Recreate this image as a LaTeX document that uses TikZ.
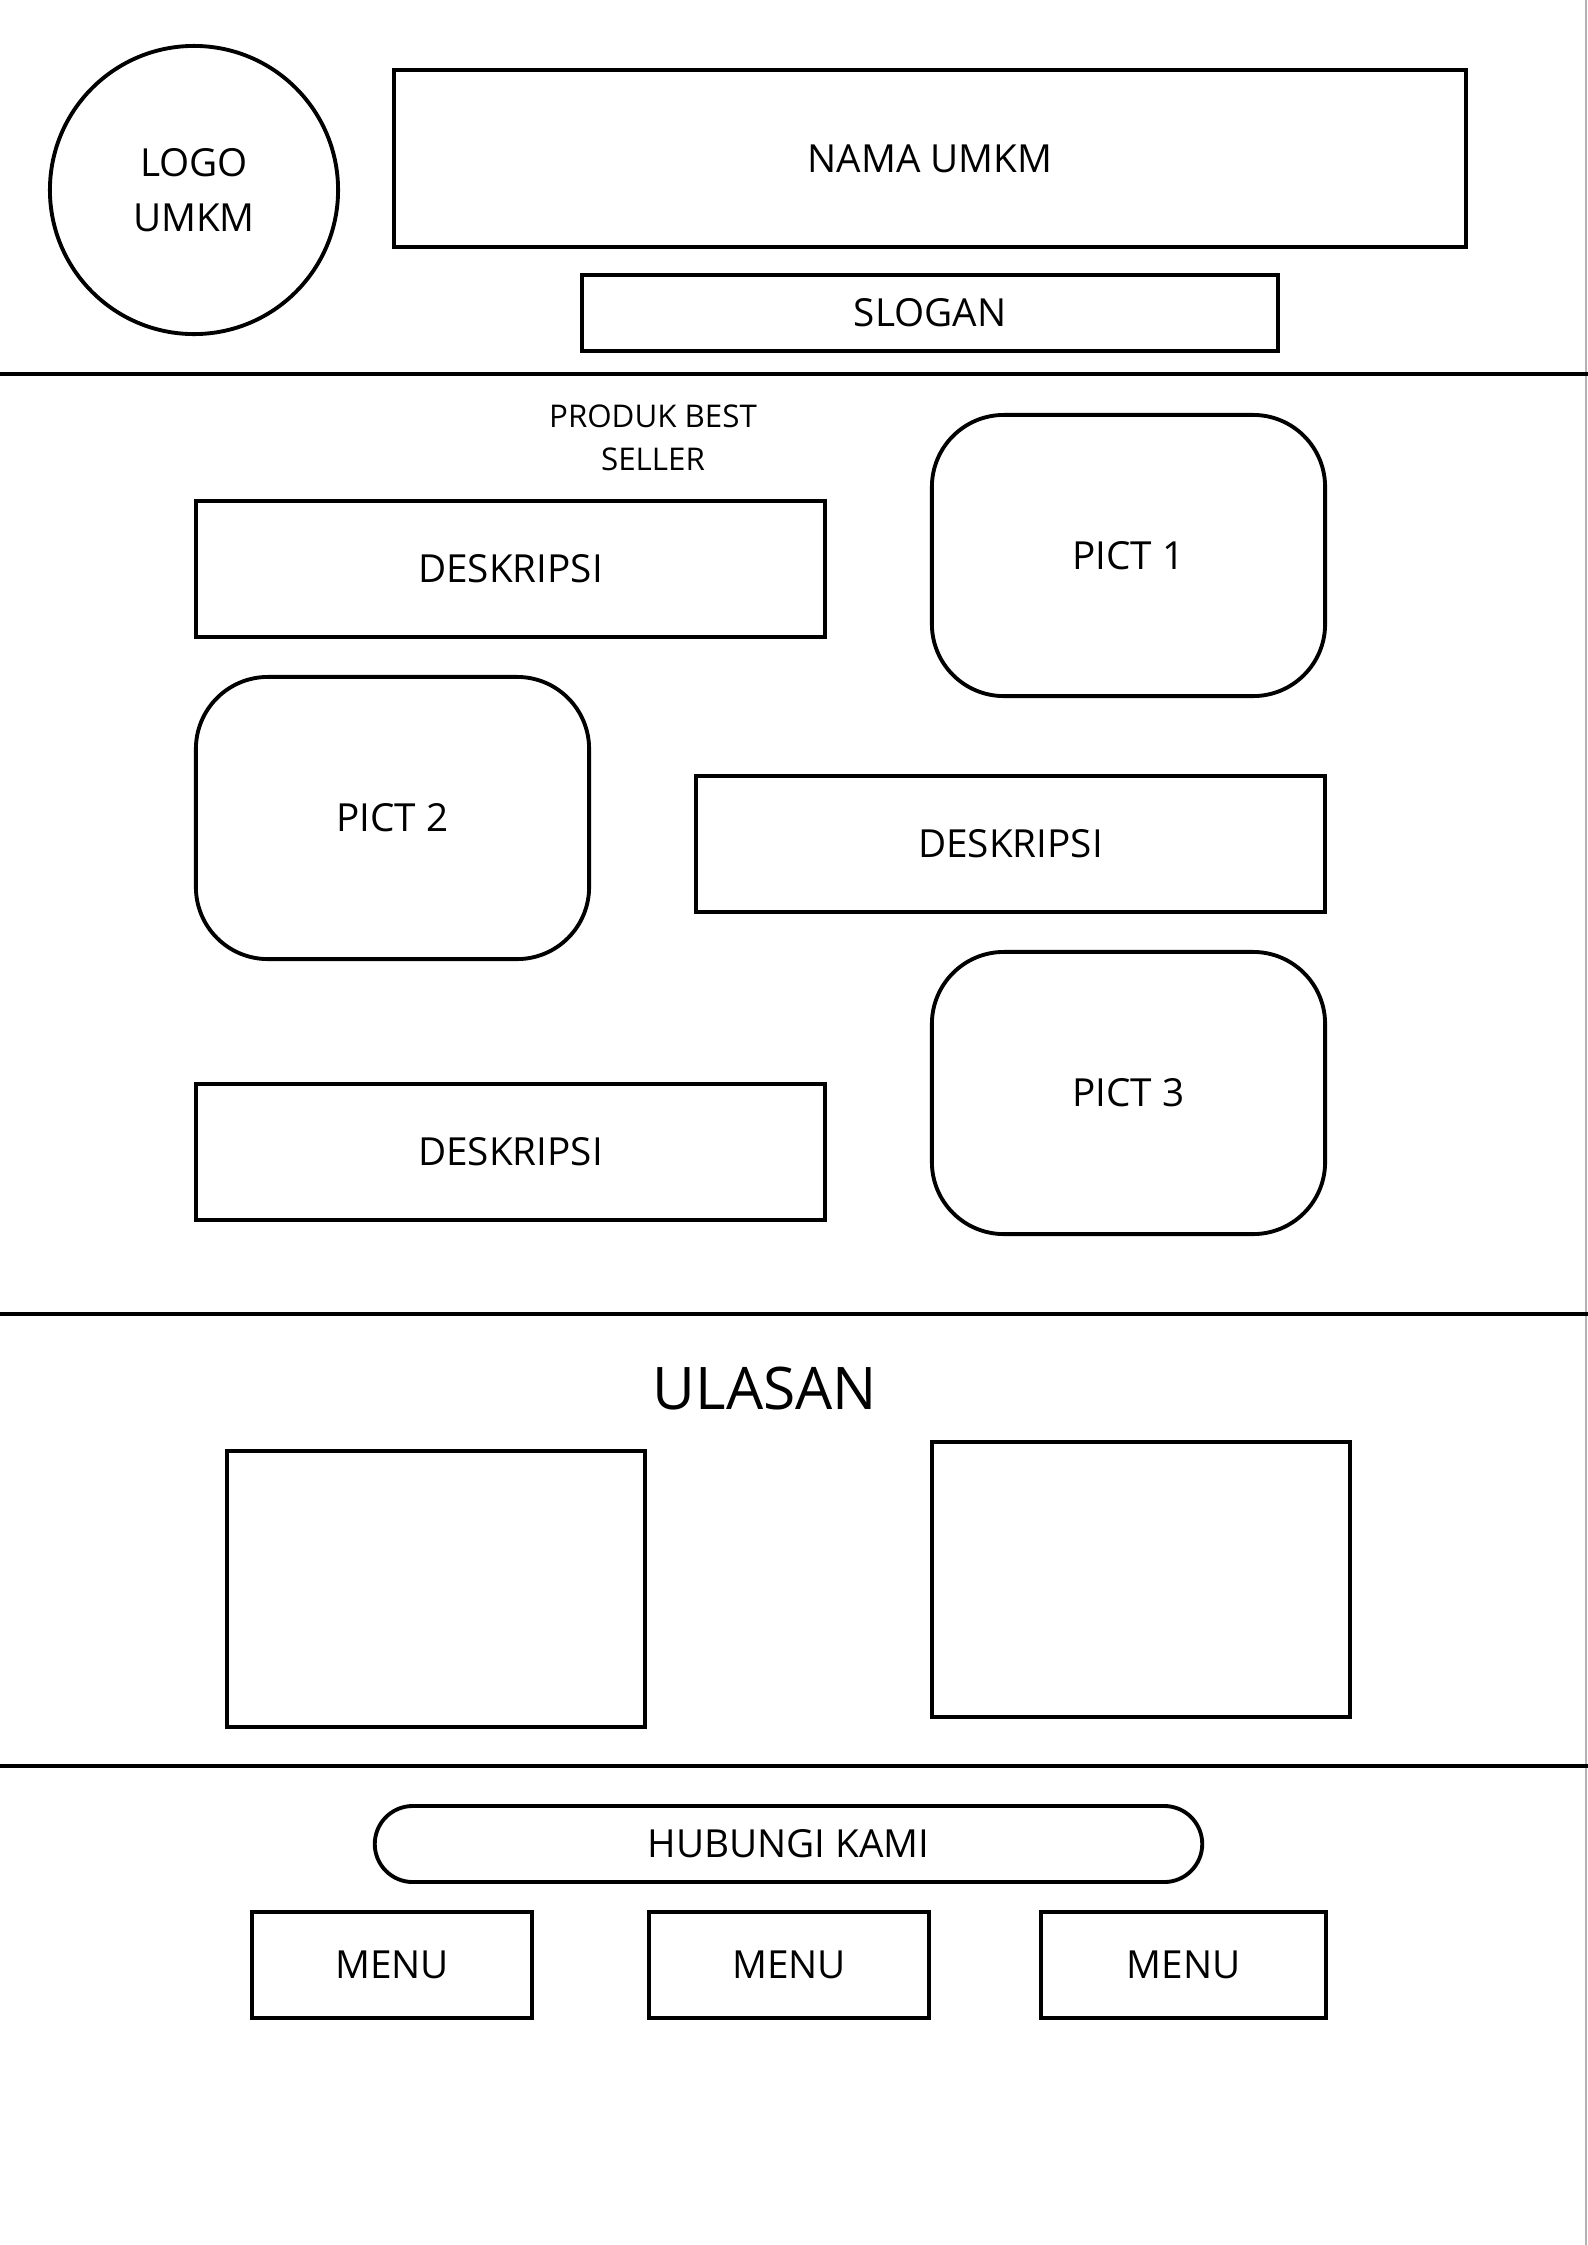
\documentclass[tikz,border=0pt]{standalone}
\usepackage{fontspec}
\setmainfont{Open Sans}
\begin{document}
\begin{tikzpicture}[x=0.01cm,y=-0.01cm,
  box/.style={draw, line width=1.1pt, inner sep=0pt, align=center,
    font=\fontsize{11}{15.6}\selectfont},
  rbox/.style={box, rounded corners=0.72cm},
  pill/.style={box, rounded corners=0.38cm},
  sep/.style={line width=1.1pt}]
\useasboundingbox (0,0) rectangle (1588,2245);
\fill[white] (0,0) rectangle (1588,2245);
% right page edge
\draw[gray!60, line width=0.6pt] (1586,0) -- (1586,2245);

% header
\node[box, circle, minimum size=2.88cm] (logo) at (194,190) {LOGO\\UMKM};
\node[box, minimum width=10.72cm, minimum height=1.77cm] (nama) at (930,158.5) {NAMA UMKM};
\node[box, minimum width=6.96cm, minimum height=0.76cm] (slogan) at (930,313) {SLOGAN};
\draw[sep] (0,374) -- (1588,374);

% best seller
\node[align=center, inner sep=0pt, font=\fontsize{8.9}{12.2}\selectfont] (produk) at (653,438) {PRODUK BEST\\SELLER};
\node[box, minimum width=6.29cm, minimum height=1.36cm] (desk1) at (510.5,569) {DESKRIPSI};
\node[rbox, minimum width=3.93cm, minimum height=2.81cm] (pict1) at (1128.5,555.5) {PICT 1};
\node[rbox, minimum width=3.93cm, minimum height=2.82cm] (pict2) at (392.5,818) {PICT 2};
\node[box, minimum width=6.29cm, minimum height=1.36cm] (desk2) at (1010.5,844) {DESKRIPSI};
\node[rbox, minimum width=3.93cm, minimum height=2.82cm] (pict3) at (1128.5,1093) {PICT 3};
\node[box, minimum width=6.29cm, minimum height=1.36cm] (desk3) at (510.5,1152) {DESKRIPSI};
\draw[sep] (0,1314) -- (1588,1314);

% ulasan
\node[inner sep=0pt, font=\fontsize{16.7}{20}\selectfont] (ulasan) at (765,1389) {ULASAN};
\node[box, minimum width=4.18cm, minimum height=2.76cm] (rev1) at (436,1589) {};
\node[box, minimum width=4.18cm, minimum height=2.75cm] (rev2) at (1141,1579.5) {};
\draw[sep] (0,1766) -- (1588,1766);

% footer
\node[pill, minimum width=8.27cm, minimum height=0.76cm] (hub) at (788.5,1844) {HUBUNGI KAMI};
\node[box, minimum width=2.80cm, minimum height=1.06cm] (menu1) at (392,1965) {MENU};
\node[box, minimum width=2.80cm, minimum height=1.06cm] (menu2) at (789,1965) {MENU};
\node[box, minimum width=2.85cm, minimum height=1.06cm] (menu3) at (1183.5,1965) {MENU};
\end{tikzpicture}
\end{document}
